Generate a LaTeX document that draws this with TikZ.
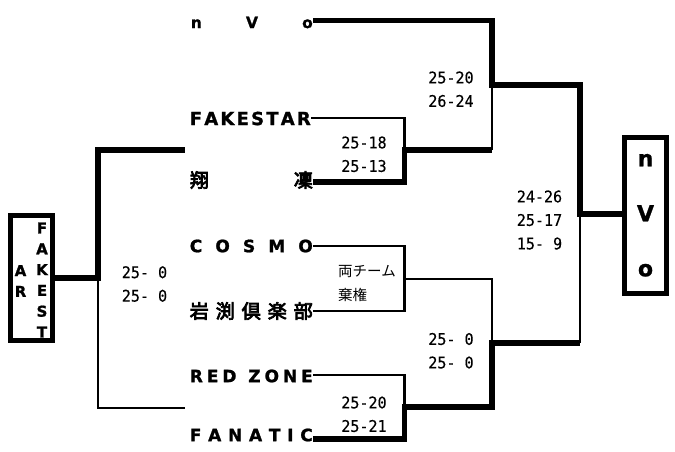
\documentclass[tikz,border=0pt]{standalone}
\usepackage{fontspec}
\setmainfont{DejaVu Sans}
\newfontfamily\jp{Noto Sans CJK JP}
\newfontfamily\jpheavy{Noto Sans CJK JP}[FakeBold=4]
\newfontfamily\heavy{DejaVu Sans}[BoldFeatures={FakeBold=1.2}]
\newfontfamily\scorefont{DejaVu Sans Mono}[FakeStretch=0.94,FakeBold=0.3]
\begin{document}
\begin{tikzpicture}[x=1pt,y=-1pt,
  heavyln/.style={line width=5.5pt},
  lightln/.style={line width=2.7pt},
  team/.style={anchor=east, inner sep=0pt, font=\heavy\bfseries\fontsize{17}{17}\selectfont},
  jteam/.style={anchor=east, inner sep=0pt, font=\jpheavy\fontsize{19}{19}\selectfont},
  score/.style={inner sep=0pt, align=center, font=\scorefont\fontsize{16}{23.5}\selectfont},
  jscore/.style={inner sep=0pt, align=left, anchor=west, font=\jp\fontsize{14.5}{23.5}\selectfont},
  framebox/.style={draw, line width=5pt, inner sep=0pt}
]
\useasboundingbox (0,0) rectangle (675,451);

% team names
\node[team, font=\heavy\bfseries\fontsize{15.5}{15.5}\selectfont] (nvo) at (313,22.5) {\hbox to 122pt{n\hfill V\hfill o}};
\node[team, font=\heavy\bfseries\fontsize{18}{18}\selectfont] (fakestar) at (311,118.5) {\hbox to 121pt{F\hfill A\hfill K\hfill E\hfill S\hfill T\hfill A\hfill R}};
\node[jteam] (shoryn) at (313,180) {\hbox to 123pt{翔\hfill 凜}};
\node[team] (cosmo) at (313,246) {\hbox to 123pt{C\hfill O\hfill S\hfill M\hfill O}};
\node[jteam] (iwabuchi) at (313,311) {\hbox to 123pt{岩\hfill 渕\hfill 倶\hfill 楽\hfill 部}};
\node[team] (redzone) at (313,376) {\hbox to 123pt{R\hfill E\hfill D\hfill\hfill\hfill Z\hfill O\hfill N\hfill E}};
\node[team] (fanatic) at (313,435) {\hbox to 123pt{F\hfill A\hfill N\hfill A\hfill T\hfill I\hfill C}};

% boxes
\node[framebox, minimum width=42pt, minimum height=155.5pt, align=center,
      font=\heavy\bfseries\fontsize{22}{55}\selectfont] (win) at (645.5,215.25) {n\\V\\o};
\node[framebox, minimum width=42pt, minimum height=125pt] (lbox) at (31.5,278) {};
\node[inner sep=0pt, align=center, font=\heavy\bfseries\fontsize{15}{20.8}\selectfont] (lcolR) at (42,280) {F\\A\\K\\E\\S\\T};
\node[inner sep=0pt, align=center, font=\heavy\bfseries\fontsize{15}{20.8}\selectfont] (lcolL) at (20.5,281) {A\\R};

% junctions
\coordinate (j1) at (404.5,150);
\coordinate (j2) at (404.5,279);
\coordinate (j3) at (404.5,407);
\coordinate (s1) at (492,85);
\coordinate (s2) at (492,343);
\coordinate (f) at (580,214);
\coordinate (l1) at (98,279);
\coordinate (ltop) at (185,150);
\coordinate (lbot) at (185,408);

% upper half
\draw[heavyln] ([yshift=2pt]nvo.east) -| (s1) -| (f) -- (f -| win.west);
\draw[lightln] (s1) -- (s1 |- j1);
\draw[lightln] ([yshift=0.5pt]fakestar.east) -| (j1);
\draw[heavyln] ([yshift=-2pt]shoryn.east) -| (j1) -- (s1 |- j1);

% lower half
\draw[lightln] (cosmo.east) -| (j2);
\draw[lightln] (iwabuchi.east) -| (j2);
\draw[lightln] (j2) -| (s2);
\draw[lightln] (f) -- (f |- s2);
\draw[lightln] ([yshift=1pt]redzone.east) -| (j3);
\draw[heavyln] ([yshift=-4pt]fanatic.east) -| (j3) -- (s2 |- j3) -- (s2) -- (f |- s2);

% left bracket
\draw[heavyln] (lbox.east) -- (lbox.east -| l1) |- (ltop);
\draw[lightln] (lbox.east -| l1) |- (lbot);

% scores
\node[score] (sc1) at (451,89.25) {25-20\\26-24};
\node[score] (sc2) at (364,154.25) {25-18\\25-13};
\node[jscore] (sc3) at (338,283.25) {両チーム\\棄権};
\node[score] (sc4) at (451,350.75) {25-\ 0\\25-\ 0};
\node[score] (sc5) at (364,414.25) {25-20\\25-21};
\node[score] (sc6) at (539.5,220) {24-26\\25-17\\15-\ 9};
\node[score] (sc7) at (144.5,284) {25-\ 0\\25-\ 0};
\end{tikzpicture}
\end{document}
